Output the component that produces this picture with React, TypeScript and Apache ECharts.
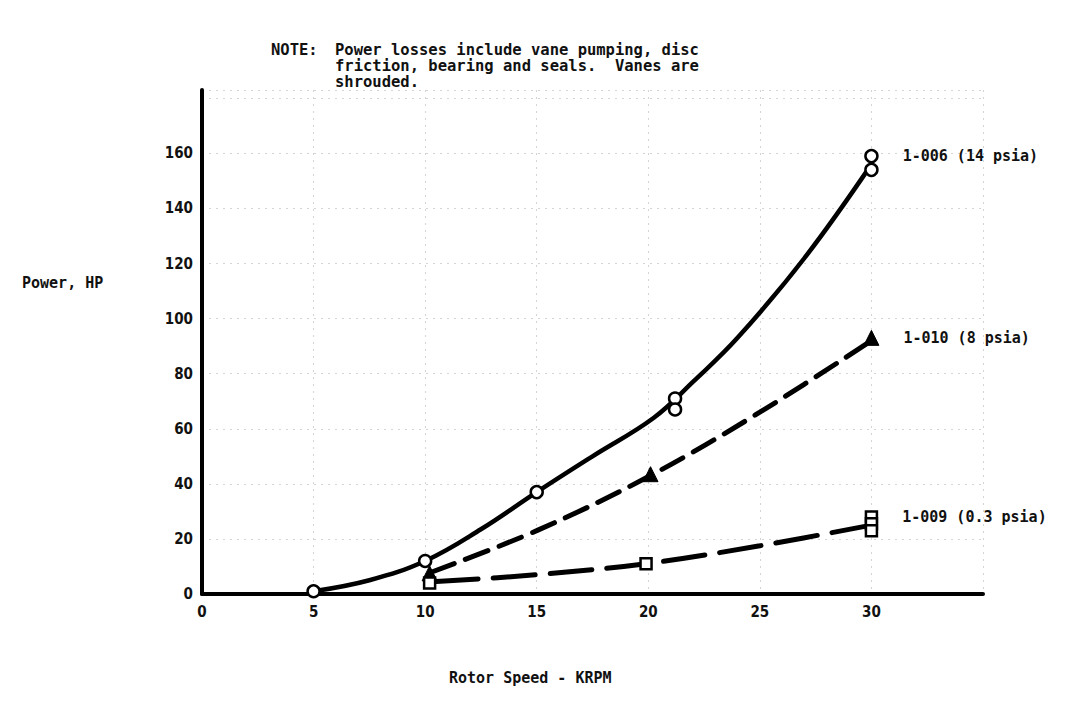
import React, { useEffect, useRef } from "react";
import * as echarts from "echarts";

const xTicks = [0, 5, 10, 15, 20, 25, 30];
const yTicks = [0, 20, 40, 60, 80, 100, 120, 140, 160];

// 1-006 (14 psia): curve, markers at the test points
const line006X = [5, 7.5, 10, 12.5, 15, 17.5, 20.25, 22, 24, 27, 30];
const line006Y = [1, 5, 12, 23.5, 37, 50, 64, 77, 93, 122, 156];
const mark006X = [5, 10, 15, 21.2, 21.2, 30, 30];
const mark006Y = [1, 12, 37, 71, 67, 159, 154];

// 1-010 (8 psia)
const line010X = [10.3, 15, 20.1, 25, 30];
const line010Y = [8, 23, 43, 66, 92];
const mark010X = [10.2, 20.1, 30];
const mark010Y = [7.5, 43.5, 93];

// 1-009 (0.3 psia)
const line009X = [10.5, 15, 19.9, 25, 30];
const line009Y = [4.5, 7, 11, 17.5, 25];
const mark009X = [10.2, 19.9, 30, 30, 30];
const mark009Y = [4, 11, 28, 25.5, 23];

const labels = ["1-006 (14 psia)", "1-010 (8 psia)", "1-009 (0.3 psia)"];
const noteLines = [
  "Power losses include vane pumping, disc",
  "friction, bearing and seals.  Vanes are",
  "shrouded.",
];

const MONO = "'DejaVu Sans Mono', 'Liberation Mono', monospace";
const COND = "'DejaVu Sans Condensed', 'DejaVu Sans', sans-serif";
const INK = "#111";

const zip = (xs: number[], ys: number[]) => xs.map((x, i) => [x, ys[i]]);

export default function App() {
  const ref = useRef<HTMLDivElement>(null);
  useEffect(() => {
    if (!ref.current) return;
    const chart = echarts.init(ref.current, undefined, { renderer: "svg" });
    const labelStyle = {
      show: true,
      position: "right" as const,
      distance: 24,
      color: INK,
      fontFamily: MONO,
      fontWeight: "bold" as const,
      fontSize: 15,
    };
    const withEndLabel = (pts: number[][], idx: number, text: string) =>
      pts.map((p, i) =>
        i === idx ? { value: p, label: { ...labelStyle, formatter: text } } : { value: p }
      );
    chart.setOption({
      animation: false,
      backgroundColor: "#ffffff",
      grid: { left: 194, right: 100, top: 82, bottom: 107 },
      xAxis: {
        type: "value",
        min: 0,
        max: 35,
        interval: 5,
        axisLine: { show: true, onZero: false, lineStyle: { color: "#000", width: 4 } },
        axisTick: { show: false },
        axisLabel: {
          margin: 10,
          color: INK,
          fontFamily: COND,
          fontWeight: "bold",
          fontSize: 15,
          formatter: (v: number) => (xTicks.includes(v) ? String(v) : ""),
        },
        splitLine: { show: true, lineStyle: { color: "#d4d4d4", type: [2, 5], width: 1 } },
      },
      yAxis: {
        type: "value",
        min: 0,
        max: 183,
        interval: 20,
        axisLine: { show: true, onZero: false, lineStyle: { color: "#000", width: 4 } },
        axisTick: { show: false },
        axisLabel: {
          margin: 9,
          color: INK,
          fontFamily: COND,
          fontWeight: "bold",
          fontSize: 15,
          formatter: (v: number) => (yTicks.includes(v) ? String(v) : ""),
        },
        splitLine: { show: true, lineStyle: { color: "#d4d4d4", type: [2, 5], width: 1 } },
      },
      series: [
        {
          type: "line",
          smooth: 0.4,
          symbol: "none",
          data: zip(line006X, line006Y),
          lineStyle: { color: "#000", width: 4.5 },
          z: 3,
        },
        {
          type: "line",
          smooth: 0.35,
          symbol: "none",
          data: zip(line010X, line010Y),
          lineStyle: { color: "#000", width: 5, type: [24, 12], cap: "round" },
          z: 3,
        },
        {
          type: "line",
          smooth: 0.35,
          symbol: "none",
          data: zip(line009X, line009Y),
          lineStyle: { color: "#000", width: 5, type: [42, 15], cap: "round" },
          z: 3,
        },
        {
          type: "scatter",
          symbol: "circle",
          symbolSize: 12,
          itemStyle: { color: "#fff", borderColor: "#000", borderWidth: 2.5, opacity: 1 },
          data: withEndLabel(zip(mark006X, mark006Y), 5, labels[0]),
          z: 5,
        },
        {
          type: "scatter",
          symbol: "triangle",
          symbolSize: 15,
          itemStyle: { color: "#000", borderColor: "#000", borderWidth: 1, opacity: 1 },
          data: withEndLabel(zip(mark010X, mark010Y), 2, labels[1]),
          z: 5,
        },
        {
          type: "scatter",
          symbol: "rect",
          symbolSize: 11,
          itemStyle: { color: "#fff", borderColor: "#000", borderWidth: 2.5, opacity: 1 },
          data: withEndLabel(zip(mark009X, mark009Y), 2, labels[2]),
          z: 5,
        },
      ],
      graphic: [
        {
          type: "text",
          x: 14,
          y: 275,
          style: {
            text: "Power, HP",
            fill: INK,
            font: `bold 15px ${MONO}`,
            verticalAlign: "middle",
          },
        },
        {
          type: "text",
          x: 441,
          y: 670,
          style: {
            text: "Rotor Speed - KRPM",
            fill: INK,
            font: `bold 15px ${MONO}`,
            verticalAlign: "middle",
          },
        },
        {
          type: "text",
          x: 263,
          y: 42,
          style: {
            text: "NOTE:",
            fill: INK,
            font: `bold 15.5px ${MONO}`,
            verticalAlign: "middle",
          },
        },
        ...noteLines.map((t, i) => ({
          type: "text",
          x: 327,
          y: 42 + i * 16,
          style: {
            text: t,
            fill: INK,
            font: `bold 15.5px ${MONO}`,
            verticalAlign: "middle",
          },
        })),
      ],
    });
    return () => chart.dispose();
  }, []);
  return <div ref={ref} style={{ width: 1075, height: 693 }} />;
}
